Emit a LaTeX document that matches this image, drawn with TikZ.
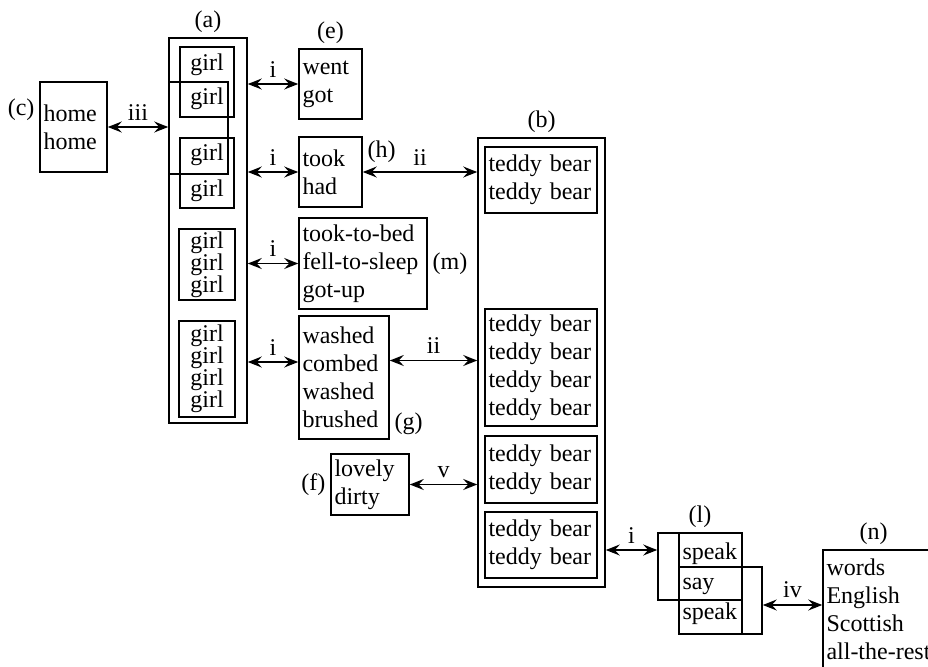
\documentclass[tikz,border=0pt]{standalone}
\usepackage{fontspec}
\setmainfont{Liberation Serif}
\usetikzlibrary{arrows.meta}
\begin{document}
\begin{tikzpicture}[x=0.5pt,y=-0.5pt,line width=0.8pt,>={Stealth[length=7pt,width=5.5pt,inset=2.5pt]},font=\fontsize{12}{14}\selectfont]
 \tikzset{box/.style 2 args={draw,inner sep=0pt,minimum width=#1*0.5pt,minimum height=#2*0.5pt},
 tbox/.style 2 args={box={#1}{#2},inner xsep=1.75pt,text width=#1*0.5pt-3.5pt,align=left},
 gbox/.style 2 args={box={#1}{#2},align=center,font=\fontsize{12}{11}\selectfont},
 lab/.style={inner sep=2pt},
 arl/.style={above,inner sep=3pt},
 dbl/.style={<->}
 }
 \useasboundingbox (0,0) rectangle (928,666);
 % (a) girls
 \node[box={78}{385},label={[lab]above:(a)}] (a) at (208,230.5) {};
 \node[gbox={54}{70}] (a1) at (207,82) {girl\\[6pt]girl};
 \node[box={59}{92}] (a2) at (198.5,128) {};
 \node[gbox={54}{70}] (a3) at (207,173) {girl\\[7pt]girl};
 \node[gbox={56}{71}] (a4) at (207,264.5) {girl\\girl\\girl};
 \node[gbox={56}{96}] (a5) at (207,369) {girl\\girl\\girl\\girl};
 % left and middle column
 \node[tbox={67}{90},label={[lab,yshift=8.5pt]left:(c)}] (c) at (73.5,127) {home\\home};
 \node[tbox={63}{70},label={[lab]above:(e)}] (e) at (330.5,84) {went\\got};
 \node[tbox={63}{70},label={[lab,anchor=north west]north east:(h)}] (h) at (330.5,172) {took\\had};
 \node[tbox={128}{91},label={[lab]right:(m)}] (m) at (363,263.5) {took-to-bed\\fell-to-sleep\\got-up};
 \node[tbox={90}{123},label={[lab,anchor=south west]south east:(g)}] (g) at (344,377.5) {washed\\combed\\washed\\brushed};
 \node[tbox={78}{61},label={[lab]left:(f)}] (f) at (370,484.5) {lovely\\dirty};
 % (b) teddy bears
 \node[box={127}{449},label={[lab]above:(b)}] (b) at (541.5,362.5) {};
 \node[tbox={112}{66}] (b1) at (541,180) {teddy bear\\teddy bear};
 \node[tbox={112}{117}] (b2) at (541,367.5) {teddy bear\\teddy bear\\teddy bear\\teddy bear};
 \node[tbox={112}{67}] (b3) at (541,469.5) {teddy bear\\teddy bear};
 \node[tbox={112}{66}] (b4) at (541,545) {teddy bear\\teddy bear};
 % (l) and (n)
 \node[box={84}{67},label={[lab]above:(l)}] (l1) at (700,566.5) {};
 \node[tbox={63}{101}] (lc) at (710.5,583.5) {speak\\[1pt]say\\[1pt]speak};
 \node[box={83}{67}] (l2) at (720.5,600.5) {};
 \node[tbox={117}{118},label={[lab,xshift=-4pt]above:(n)}] (n) at (881.5,609) {words\\English\\Scottish\\all-the-rest};
 % arrows
 \coordinate (gin) at ([yshift=7.75pt]g.west);
 \coordinate (gout) at ([yshift=8.5pt]g.east);
 \coordinate (lin) at ([yshift=8.25pt]l1.west);
 \coordinate (lout) at ([yshift=-2.25pt]l2.east);
 \draw[dbl] (c.east) -- (c.east -| a.west) node[arl,midway]{iii};
 \draw[dbl] (e.west -| a.east) -- (e.west) node[arl,midway]{i};
 \draw[dbl] (h.west -| a.east) -- (h.west) node[arl,midway]{i};
 \draw[dbl] (m.west -| a.east) -- (m.west) node[arl,midway]{i};
 \draw[dbl] (gin -| a.east) -- (gin) node[arl,midway]{i};
 \draw[dbl] (h.east) -- (h.east -| b.west) node[arl,midway]{ii};
 \draw[dbl] (gout) -- (gout -| b.west) node[arl,midway]{ii};
 \draw[dbl] (f.east) -- (f.east -| b.west) node[arl,midway]{v};
 \draw[dbl] (lin -| b.east) -- (lin) node[arl,midway]{i};
 \draw[dbl] (lout) -- (lout -| n.west) node[arl,midway]{iv};
\end{tikzpicture}
\end{document}
